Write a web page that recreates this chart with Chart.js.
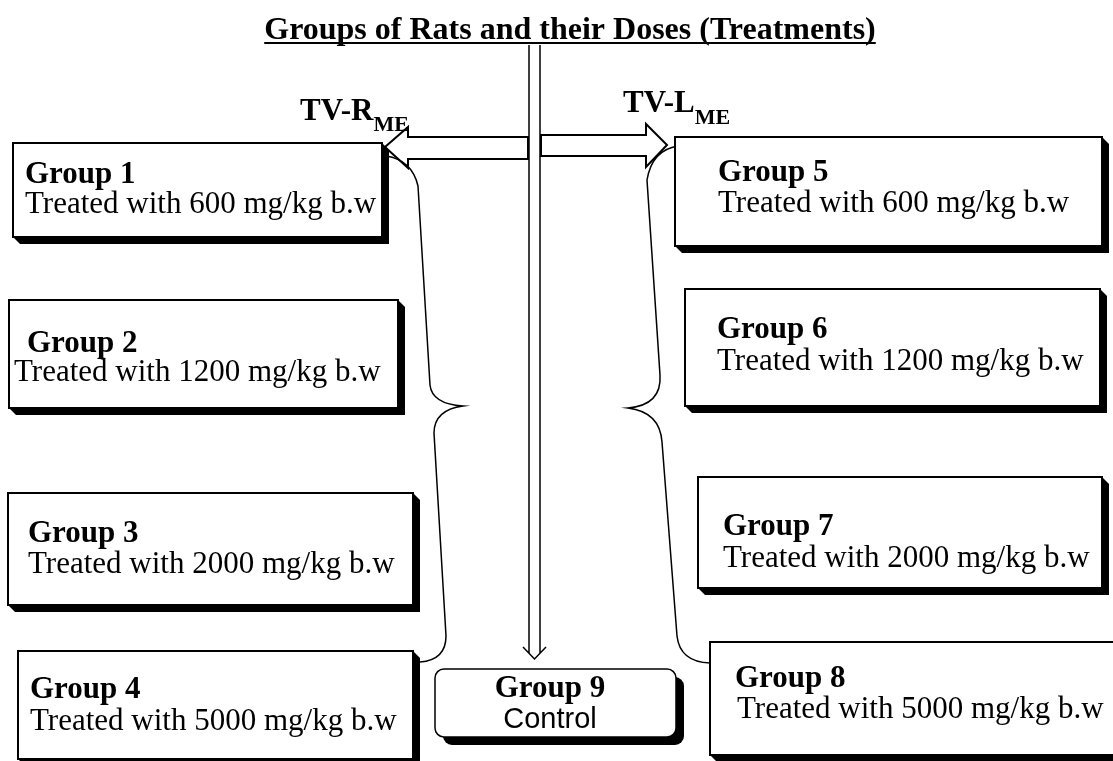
<!DOCTYPE html>
<html lang="en">
<head>
    <meta charset="UTF-8">
    <title>Groups of Rats and their Doses</title>
    <script src="https://cdn.jsdelivr.net/npm/chart.js@4.4.0/dist/chart.umd.min.js"></script>
    <style>
        body {
            margin: 0;
            background: #ffffff;
        }
        #wrap {
            width: 1113px;
            height: 761px;
        }
    </style>
</head>
<body>
    <div id="wrap">
        <canvas id="diagram" width="1113" height="761"></canvas>
    </div>

    <script>
        // Diagram content
        const titleText = 'Groups of Rats and their Doses (Treatments)';
        const groupNames = ['Group 1', 'Group 2', 'Group 3', 'Group 4',
                            'Group 5', 'Group 6', 'Group 7', 'Group 8', 'Group 9'];
        const doses = [600, 1200, 2000, 5000, 600, 1200, 2000, 5000, null];
        const doseUnit = 'mg/kg b.w';
        const extractNames = ['TV-R', 'TV-L'];
        const extractSub = 'ME';
        const controlLabel = 'Control';

        // Layout (page units, 0..1113 x 0..761)
        // [x1, y1, x2, y2, textX, doseX, baseline1, baseline2]
        const boxLayout = [
            [13, 143, 382, 237, 25, 25, 183, 213],
            [9, 300, 398, 408, 27, 14, 352, 381],
            [8, 493, 413, 605, 28, 28, 542, 573],
            [18, 651, 413, 759, 30, 30, 698, 730],
            [675, 137, 1102, 246, 718, 718, 181, 212],
            [685, 289, 1100, 406, 717, 717, 338, 370],
            [698, 477, 1102, 588, 723, 723, 535, 567],
            [710, 642, 1120, 755, 735, 737, 687, 718]
        ];
        const controlBox = [435, 669, 676, 737];
        const extractLabelPos = [[300, 120, 131], [623, 112, 124]];

        const serif = "'Liberation Serif', 'Times New Roman', serif";

        const diagramPlugin = {
            id: 'diagram',
            afterDraw(chart) {
                const ctx = chart.ctx;
                const xs = chart.scales.x, ys = chart.scales.y;
                const px = v => xs.getPixelForValue(v);
                const py = v => ys.getPixelForValue(v);

                ctx.save();
                ctx.strokeStyle = '#000';
                ctx.fillStyle = '#000';
                ctx.lineJoin = 'miter';

                // title
                ctx.font = 'bold 32px ' + serif;
                ctx.textAlign = 'center';
                ctx.textBaseline = 'alphabetic';
                ctx.fillText(titleText, px(570), py(39));
                const tw = ctx.measureText(titleText).width;
                ctx.fillRect(px(570) - tw / 2, py(42), tw, 2);

                // horizontal arrows
                ctx.lineWidth = 2;
                const arrow = pts => {
                    ctx.beginPath();
                    pts.forEach((p, i) => i ? ctx.lineTo(px(p[0]), py(p[1])) : ctx.moveTo(px(p[0]), py(p[1])));
                    ctx.closePath();
                    ctx.fillStyle = '#fff';
                    ctx.fill();
                    ctx.stroke();
                };
                arrow([[528, 137], [408, 137], [408, 127], [385, 147], [408, 168], [408, 159], [528, 159]]);
                arrow([[541, 135], [646, 135], [646, 124], [667, 145], [646, 167], [646, 156], [541, 156]]);

                // vertical double-line arrow to control
                ctx.lineWidth = 1.5;
                ctx.beginPath();
                ctx.moveTo(px(529), py(45)); ctx.lineTo(px(529), py(653));
                ctx.moveTo(px(540), py(45)); ctx.lineTo(px(540), py(653));
                ctx.moveTo(px(523), py(647)); ctx.lineTo(px(534.5), py(659)); ctx.lineTo(px(546), py(647));
                ctx.stroke();

                // braces
                ctx.lineWidth = 1.5;
                ctx.beginPath();
                ctx.moveTo(px(386), py(156));
                ctx.quadraticCurveTo(px(412), py(160), px(418), py(186));
                ctx.lineTo(px(430), py(385));
                ctx.quadraticCurveTo(px(432), py(404), px(463), py(406));
                ctx.quadraticCurveTo(px(434), py(410), px(434), py(433));
                ctx.lineTo(px(446), py(636));
                ctx.quadraticCurveTo(px(446), py(660), px(420), py(662));
                ctx.stroke();

                ctx.beginPath();
                ctx.moveTo(px(678), py(146));
                ctx.quadraticCurveTo(px(652), py(150), px(647), py(180));
                ctx.lineTo(px(660), py(375));
                ctx.quadraticCurveTo(px(662), py(405), px(628), py(408));
                ctx.quadraticCurveTo(px(660), py(412), px(662), py(442));
                ctx.lineTo(px(677), py(636));
                ctx.quadraticCurveTo(px(680), py(662), px(710), py(663));
                ctx.stroke();

                // group boxes
                const off = 7;
                boxLayout.forEach((b, i) => {
                    const [x1, y1, x2, y2, tx, dx, b1, b2] = b;
                    ctx.fillStyle = '#000';
                    ctx.beginPath();
                    ctx.moveTo(px(x2), py(y1));
                    ctx.lineTo(px(x2 + off), py(y1 + off));
                    ctx.lineTo(px(x2 + off), py(y2 + off));
                    ctx.lineTo(px(x1 + off), py(y2 + off));
                    ctx.lineTo(px(x1), py(y2));
                    ctx.closePath();
                    ctx.fill();
                    ctx.fillStyle = '#fff';
                    ctx.fillRect(px(x1), py(y1), px(x2) - px(x1), py(y2) - py(y1));
                    ctx.lineWidth = 2;
                    ctx.strokeRect(px(x1), py(y1), px(x2) - px(x1), py(y2) - py(y1));

                    ctx.fillStyle = '#000';
                    ctx.textAlign = 'left';
                    ctx.font = 'bold 31px ' + serif;
                    ctx.fillText(groupNames[i], px(tx), py(b1));
                    ctx.font = '31px ' + serif;
                    ctx.fillText('Treated with ' + doses[i] + ' ' + doseUnit, px(dx), py(b2));
                });

                // control box (rounded)
                const [cx1, cy1, cx2, cy2] = controlBox;
                ctx.fillStyle = '#000';
                ctx.beginPath();
                ctx.roundRect(px(cx1 + 8), py(cy1 + 8), px(cx2) - px(cx1), py(cy2) - py(cy1), 9);
                ctx.fill();
                ctx.fillStyle = '#fff';
                ctx.lineWidth = 1.5;
                ctx.beginPath();
                ctx.roundRect(px(cx1), py(cy1), px(cx2) - px(cx1), py(cy2) - py(cy1), 9);
                ctx.fill();
                ctx.stroke();
                ctx.fillStyle = '#000';
                ctx.textAlign = 'center';
                ctx.font = 'bold 31px ' + serif;
                ctx.fillText(groupNames[8], px(550), py(697));
                ctx.font = "29px 'Liberation Sans', Arial, sans-serif";
                ctx.fillText(controlLabel, px(550), py(728));

                // extract labels with subscript
                ctx.textAlign = 'left';
                extractNames.forEach((name, i) => {
                    const [lx, lb, sb] = extractLabelPos[i];
                    ctx.font = 'bold 31px ' + serif;
                    ctx.fillText(name, px(lx), py(lb));
                    const w = ctx.measureText(name).width;
                    ctx.font = 'bold 22px ' + serif;
                    ctx.fillText(extractSub, px(lx) + w, py(sb));
                });

                ctx.restore();
            }
        };

        new Chart(document.getElementById('diagram'), {
            type: 'scatter',
            data: {
                datasets: [{
                    label: 'groups',
                    data: [],
                    pointRadius: 0
                }]
            },
            options: {
                responsive: false,
                animation: false,
                layout: { padding: 0 },
                plugins: {
                    legend: { display: false },
                    tooltip: { enabled: false }
                },
                scales: {
                    x: { type: 'linear', min: 0, max: 1113, display: false },
                    y: { type: 'linear', min: 0, max: 761, reverse: true, display: false }
                }
            },
            plugins: [diagramPlugin]
        });
    </script>
</body>
</html>
